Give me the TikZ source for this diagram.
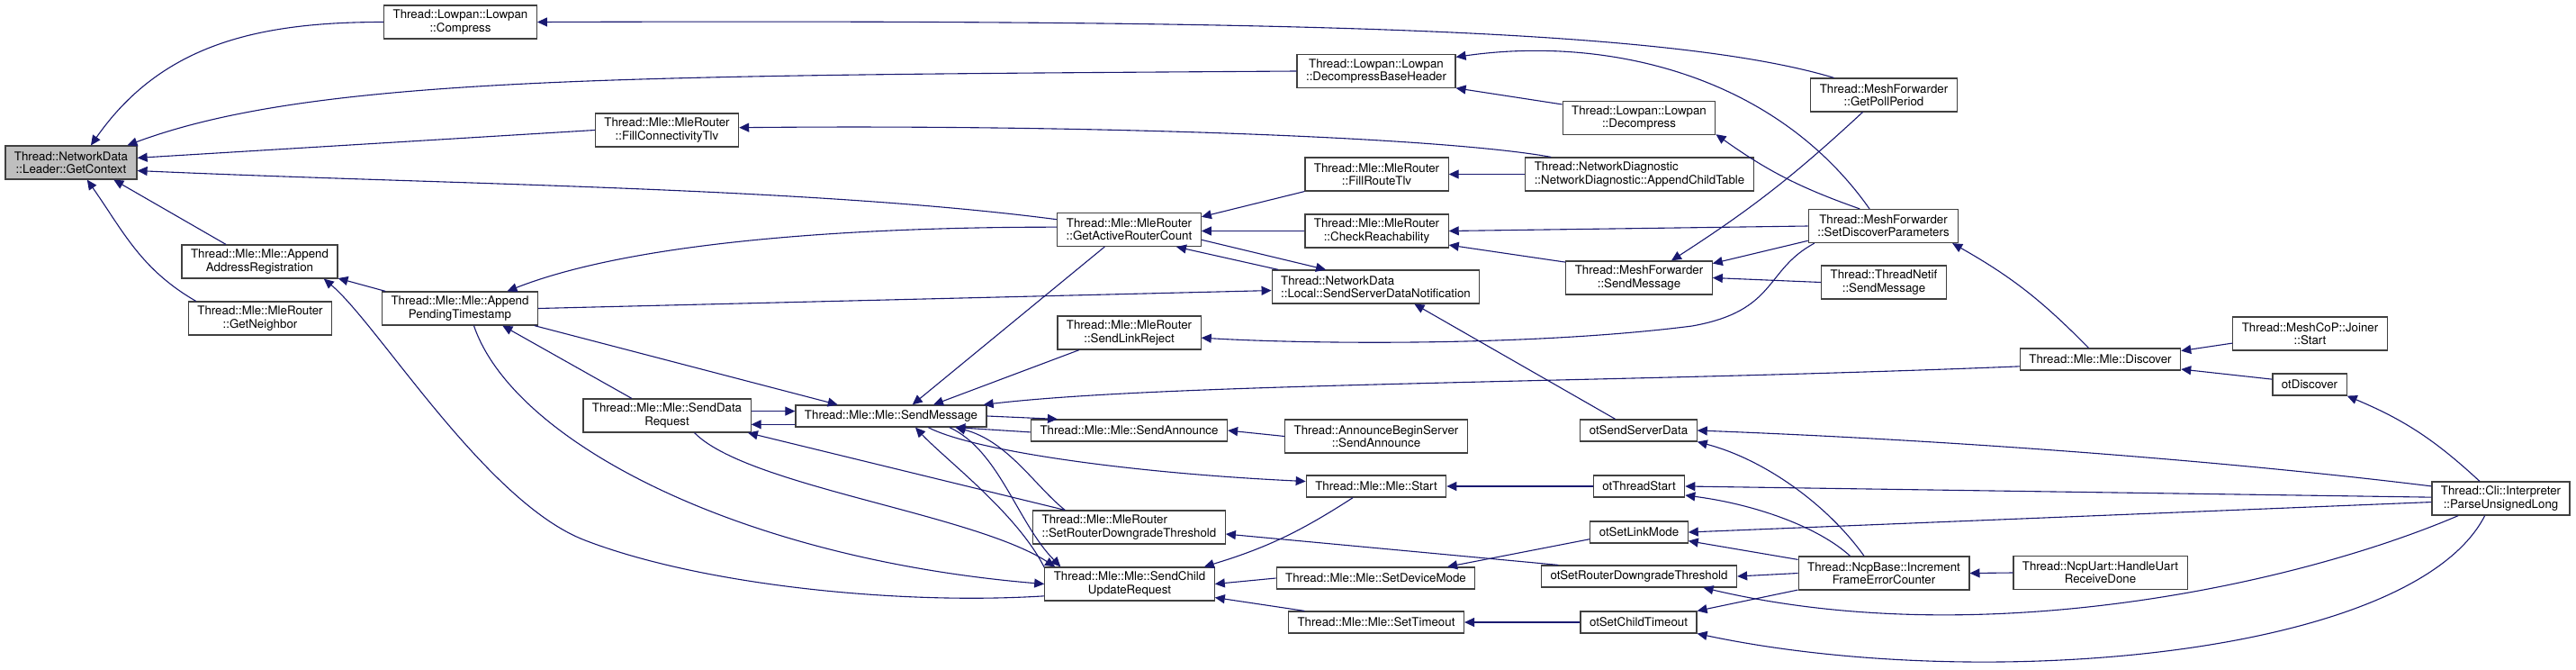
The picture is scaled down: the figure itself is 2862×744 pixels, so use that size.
\documentclass[tikz,border=0pt]{standalone}
\usepackage{fontspec}
\setmainfont{TeX Gyre Heros}
\usetikzlibrary{arrows.meta}
\definecolor{edgeblue}{HTML}{191970}
\definecolor{nodegray}{HTML}{BFBFBF}
\definecolor{framegray}{HTML}{404040}

\begin{document}
\begin{tikzpicture}[x=1pt, y=-1pt,
	fnbox/.style={draw=framegray, line width=1.2pt, fill=white, rectangle, align=center, inner xsep=10pt, inner ysep=2pt, minimum height=24pt, font=\fontsize{13.3}{14.4}\selectfont},
	fnboxtwo/.style={fnbox, minimum height=37pt},
	fncurrent/.style={fnboxtwo, fill=nodegray},
	calledge/.style={draw=edgeblue, line width=1.1pt, -{Triangle[length=11pt, width=10pt]}}]
	\useasboundingbox (0,0) rectangle (2862,744);
	% Functions:
	\node[fncurrent] (getctx) at (79,180.5) {Thread::NetworkData\\::Leader::GetContext};
	\node[fnboxtwo] (compress) at (511.5,24.5) {Thread::Lowpan::Lowpan\\::Compress};
	\node[fnboxtwo] (decbase) at (1529,79) {Thread::Lowpan::Lowpan\\::DecompressBaseHeader};
	\node[fnboxtwo] (fillconn) at (741,144.5) {Thread::Mle::MleRouter\\::FillConnectivityTlv};
	\node[fnboxtwo] (aar) at (288.5,290.5) {Thread::Mle::Mle::Append\\AddressRegistration};
	\node[fnboxtwo] (getnb) at (289,353.5) {Thread::Mle::MleRouter\\::GetNeighbor};
	\node[fnboxtwo] (apt) at (511,342.5) {Thread::Mle::Mle::Append\\PendingTimestamp};
	\node[fnboxtwo] (sdr) at (741,461.5) {Thread::Mle::Mle::SendData\\Request};
	\node[fnbox] (mlesend) at (990,462) {Thread::Mle::Mle::SendMessage};
	\node[fnboxtwo] (gar) at (1254.5,255) {Thread::Mle::MleRouter\\::GetActiveRouterCount};
	\node[fnboxtwo] (slr) at (1254.5,369.5) {Thread::Mle::MleRouter\\::SendLinkReject};
	\node[fnbox] (sendann) at (1254.5,478) {Thread::Mle::Mle::SendAnnounce};
	\node[fnboxtwo, align=left] (srdt) at (1254.5,585.5) {Thread::Mle::MleRouter\\::SetRouterDowngradeThreshold};
	\node[fnboxtwo] (scur) at (1255,648.5) {Thread::Mle::Mle::SendChild\\UpdateRequest};
	\node[fnboxtwo] (fillroute) at (1529.5,193.5) {Thread::Mle::MleRouter\\::FillRouteTlv};
	\node[fnboxtwo] (checkr) at (1529.5,256.5) {Thread::Mle::MleRouter\\::CheckReachability};
	\node[fnboxtwo, align=left] (ssdn) at (1528.5,318.5) {Thread::NetworkData\\::Local::SendServerDataNotification};
	\node[fnboxtwo] (abssend) at (1529,484.5) {Thread::AnnounceBeginServer\\::SendAnnounce};
	\node[fnbox] (start) at (1529,540) {Thread::Mle::Mle::Start};
	\node[fnbox] (devmode) at (1528.5,642) {Thread::Mle::Mle::SetDeviceMode};
	\node[fnbox] (settimeout) at (1529,691) {Thread::Mle::Mle::SetTimeout};
	\node[fnboxtwo] (decomp) at (1821,131) {Thread::Lowpan::Lowpan\\::Decompress};
	\node[fnboxtwo, align=left] (appchild) at (1821.5,193.5) {Thread::NetworkDiagnostic\\::NetworkDiagnostic::AppendChildTable};
	\node[fnboxtwo] (mfsend) at (1821,308.5) {Thread::MeshForwarder\\::SendMessage};
	\node[fnbox] (otssd) at (1820.5,478) {otSendServerData};
	\node[fnbox] (otstart) at (1821,540) {otThreadStart};
	\node[fnbox] (otlink) at (1821,591) {otSetLinkMode};
	\node[fnbox] (otsrdt) at (1821,640) {otSetRouterDowngradeThreshold};
	\node[fnbox] (otchild) at (1820.5,691) {otSetChildTimeout};
	\node[fnboxtwo] (pollp) at (2093,105.5) {Thread::MeshForwarder\\::GetPollPeriod};
	\node[fnboxtwo] (setdisc) at (2092.5,251) {Thread::MeshForwarder\\::SetDiscoverParameters};
	\node[fnboxtwo] (netifsend) at (2093,313.5) {Thread::ThreadNetif\\::SendMessage};
	\node[fnboxtwo] (incr) at (2093,636.5) {Thread::NcpBase::Increment\\FrameErrorCounter};
	\node[fnbox] (discover) at (2333.5,399) {Thread::Mle::Mle::Discover};
	\node[fnboxtwo] (uart) at (2333.5,636) {Thread::NcpUart::HandleUart\\ReceiveDone};
	\node[fnboxtwo] (joiner) at (2566.5,370.5) {Thread::MeshCoP::Joiner\\::Start};
	\node[fnbox] (otdisc) at (2566,427) {otDiscover};
	\node[fnboxtwo] (parse) at (2778.5,553.5) {Thread::Cli::Interpreter\\::ParseUnsignedLong};
	% Calls:
	\draw[calledge] (compress.west) to[out=180, in=55] (getctx.41);
	\draw[calledge] (decbase.west) .. controls (700,84) and (350,84) .. (getctx.17);
	\draw[calledge] (fillconn.west) -- (getctx.4);
	\draw[calledge] (gar.172) .. controls (900,208) and (500,205) .. (getctx.-7);
	\draw[calledge] (aar.153) -- (getctx.-22);
	\draw[calledge] (getnb.165) to[out=150, in=-55] (getctx.-47);
	\draw[calledge] (apt.167) -- (aar.-12);
	\draw[calledge] (scur.188) .. controls (1000,672) and (780,650) .. (650,600) .. controls (540,558) and (420,360) .. (aar.-15);
	\draw[calledge] (gar.178) .. controls (1000,252) and (720,262) .. (apt.20);
	\draw[calledge] (sdr.154) -- (apt.-22);
	\draw[calledge] (apt.east) -- (ssdn.182);
	\draw[calledge] (apt.-13) -- (mlesend.168);
	\draw[calledge] (apt.-51) .. controls (570,490) and (820,620) .. (scur.west);
	\draw[calledge] (sdr.3) -- (sdr.3 -| mlesend.west);
	\draw[calledge] (mlesend.185) -- (mlesend.185 -| sdr.east);
	\draw[calledge] (srdt.165) -- (sdr.-12);
	\draw[calledge] (sdr.-32) .. controls (830,540) and (1080,570) .. (scur.167.5);
	\draw[calledge] (gar.-145) -- (mlesend.28);
	\draw[calledge] (slr.-161) -- (mlesend.15);
	\draw[calledge] (discover.185) .. controls (1800,425) and (1300,425) .. (mlesend.7);
	\draw[calledge] (scur.169) .. controls (1130,570) and (1050,510) .. (mlesend.-25);
	\draw[calledge] (mlesend.-11) .. controls (1110,500) and (1130,580) .. (scur.166);
	\draw[calledge] (srdt.165) .. controls (1150,540) and (1120,490) .. (mlesend.-10);
	\draw[calledge] (sendann.181) -- (mlesend.-10);
	\draw[calledge] (mlesend.east) -- (sendann.171);
	\draw[calledge] (mlesend.-17) .. controls (1080,500) and (1250,525) .. (start.176);
	\draw[calledge] (abssend.west) -- (sendann.east);
	\draw[calledge] (otsrdt.172.5) -- (srdt.-4.5);
	\draw[calledge] (start.-154) to[bend left=8] (scur.13);
	\draw[calledge] (devmode.west) -- (scur.east);
	\draw[calledge] (settimeout.171) -- (scur.-9);
	\draw[calledge] (otstart.west) -- (start.east);
	\draw[calledge] (otlink.188) -- (devmode.9);
	\draw[calledge] (otchild.west) -- (settimeout.east);
	\draw[calledge] (otssd.154) -- (ssdn.-24);
	\draw[calledge] (gar.-8) -- (ssdn.161);
	\draw[calledge] (ssdn.170) -- (gar.-20);
	\draw[calledge] (fillroute.south west) -- (gar.10);
	\draw[calledge] (checkr.west) -- (checkr.west -| gar.east);
	\draw[calledge] (appchild.169) .. controls (1600,152) and (1200,138) .. (fillconn.2);
	\draw[calledge] (appchild.west) -- (fillroute.east);
	\draw[calledge] (setdisc.west) -- (checkr.east);
	\draw[calledge] (mfsend.168) -- (checkr.-11);
	\draw[calledge] (pollp.-141) to[bend left=5] (mfsend.28);
	\draw[calledge] (setdisc.191) -- (mfsend.11);
	\draw[calledge] (netifsend.west) -- (mfsend.east);
	\draw[calledge] (discover.136) to[bend right=8] (setdisc.-14);
	\draw[calledge] (setdisc.129) .. controls (1970,80) and (1780,40) .. (decbase.10);
	\draw[calledge] (decomp.170) -- (decbase.-12);
	\draw[calledge] (setdisc.144) to[bend left=8] (decomp.-12);
	\draw[calledge] (pollp.161) .. controls (1850,30) and (1400,22) .. (compress.east);
	\draw[calledge] (setdisc.-166) .. controls (1960,300) and (1975,345) .. (1880,362) .. controls (1700,385) and (1450,382) .. (slr.-4);
	\draw[calledge] (parse.170) .. controls (2500,515) and (2200,490) .. (otssd.east);
	\draw[calledge] (incr.139) .. controls (2030,560) and (1960,510) .. (otssd.south east);
	\draw[calledge] (parse.179) -- (otstart.east);
	\draw[calledge] (incr.153) .. controls (2020,585) and (1950,560) .. (otstart.-11);
	\draw[calledge] (parse.183) -- (otlink.east);
	\draw[calledge] (incr.171) -- (otlink.-10);
	\draw[calledge] (incr.west) -- (otsrdt.east);
	\draw[calledge] (parse.-158) .. controls (2550,650) and (2200,725) .. (otsrdt.-10);
	\draw[calledge] (incr.-169) -- (otchild.north east);
	\draw[calledge] (parse.-133) .. controls (2680,730) and (2200,770) .. (otchild.south east);
	\draw[calledge] (joiner.187) -- (discover.6);
	\draw[calledge] (otdisc.172) -- (discover.-7);
	\draw[calledge] (parse.141) to[bend right=10] (otdisc.south east);
	\draw[calledge] (uart.west) -- (incr.east);
\end{tikzpicture}
\end{document}
